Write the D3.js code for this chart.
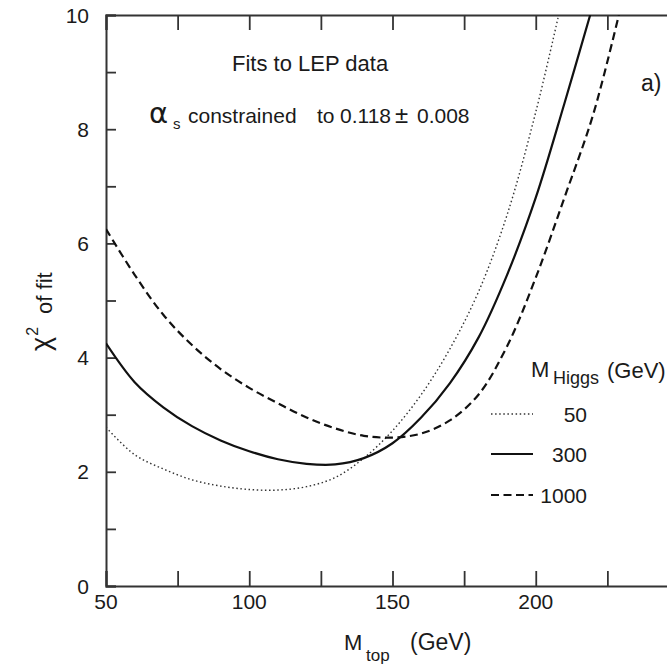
<!DOCTYPE html>
<html>
<head>
<meta charset="utf-8">
<script src="https://cdn.jsdelivr.net/npm/d3@7"></script>
<style>
    body { margin: 0; background: #fff; }
    svg { display: block; font-family: 'Liberation Sans', Arial, Helvetica, sans-serif; }
</style>
</head>
<body>
<div id="chart"></div>
<script>
/* global d3*/

/* -----------------    DATA     ------------------ */

// x ticks (M_top in GeV) and y ticks (chi^2)
const xTickValues = [50, 75, 100, 125, 150, 175, 200, 225, 250];
const xTickLabels = [50, 100, 150, 200];
const yTickValues = [0, 1, 2, 3, 4, 5, 6, 7, 8, 9, 10];
const yTickLabels = [0, 2, 4, 6, 8, 10];

// M_Higgs = 50 GeV (dotted)
const mTop50 = [50, 60, 70, 80, 90, 100, 110, 120, 130, 140, 150, 160, 170, 180, 190, 200, 208];
const chi2Higgs50 = [2.78, 2.3, 2.05, 1.86, 1.75, 1.69, 1.68, 1.74, 1.9, 2.24, 2.72, 3.35, 4.15, 5.15, 6.5, 8.3, 10];

// M_Higgs = 300 GeV (solid)
const mTop300 = [50, 60, 70, 80, 90, 100, 110, 120, 130, 140, 150, 160, 170, 180, 190, 200, 210, 219];
const chi2Higgs300 = [4.25, 3.57, 3.13, 2.8, 2.55, 2.36, 2.22, 2.14, 2.13, 2.24, 2.5, 2.95, 3.55, 4.35, 5.45, 6.8, 8.45, 10];

// M_Higgs = 1000 GeV (dashed)
const mTop1000 = [50, 60, 70, 80, 90, 100, 110, 120, 130, 140, 150, 160, 170, 180, 190, 200, 210, 220, 229];
const chi2Higgs1000 = [6.25, 5.45, 4.75, 4.22, 3.8, 3.47, 3.2, 2.95, 2.76, 2.63, 2.6, 2.67, 2.9, 3.35, 4.2, 5.4, 6.8, 8.25, 10];

const higgsLabels = ['50', '300', '1000'];

/* -----------------    SETTINGS     ------------------ */

const graphSettings = {
    width: 667,
    height: 666,
    plot: {left: 106, top: 15, right: 679, bottom: 586},
    colInk: '#1a1a1a',
    colAxis: '#333',
    fontSize: 21,
    fontSizeText: 22
};

const lineStyles = [
    {width: 1.4, dash: '1.5,2.6', col: '#333'},
    {width: 2.2, dash: null, col: '#111'},
    {width: 2.2, dash: '8,4.5', col: '#111'}
];

/* -----------------    LOGIC     ------------------ */

const { width, height, plot, colInk, colAxis, fontSize, fontSizeText } = graphSettings;

const svg = d3.select('#chart')
.append('svg')
.attr('width', width)
.attr('height', height);

const x = d3.scaleLinear().domain([50, 250]).range([plot.left, plot.right]);
const y = d3.scaleLinear().domain([0, 10]).range([plot.bottom, plot.top]);

svg.append('clipPath')
.attr('id', 'plotClip')
.append('rect')
.attr('x', plot.left)
.attr('y', plot.top)
.attr('width', plot.right - plot.left)
.attr('height', plot.bottom - plot.top);

// Axes: ticks point inward on every side
const axisBottom = d3.axisBottom(x).tickValues(xTickValues).tickSize(-15).tickFormat('');
const axisTop = d3.axisTop(x).tickValues(xTickValues).tickSize(-15).tickFormat('');
const axisLeft = d3.axisLeft(y).tickValues(yTickValues).tickSize(-10).tickFormat('');

[
    [axisBottom, `translate(0,${plot.bottom})`],
    [axisTop, `translate(0,${plot.top})`],
    [axisLeft, `translate(${plot.left},0)`]
].forEach(([axis, tr]) => {
    const g = svg.append('g').attr('transform', tr).call(axis);
    g.select('.domain').attr('stroke', colAxis).attr('stroke-width', 2);
    g.selectAll('.tick line').attr('stroke', colAxis).attr('stroke-width', 1.8);
});

// Tick labels
svg.append('g')
.selectAll('text')
.data(xTickLabels)
.enter()
.append('text')
.attr('x', d => x(d))
.attr('y', 609)
.attr('text-anchor', 'middle')
.attr('font-size', fontSize)
.attr('fill', colInk)
.text(d => d);

svg.append('g')
.selectAll('text')
.data(yTickLabels)
.enter()
.append('text')
.attr('x', 89)
.attr('y', d => y(d))
.attr('dy', '0.36em')
.attr('text-anchor', 'end')
.attr('font-size', fontSize)
.attr('fill', colInk)
.text(d => d);

// Curves
const series = [
    d3.zip(mTop50, chi2Higgs50),
    d3.zip(mTop300, chi2Higgs300),
    d3.zip(mTop1000, chi2Higgs1000)
];

const line = d3.line()
.x(d => x(d[0]))
.y(d => y(d[1]))
.curve(d3.curveCatmullRom.alpha(0.5));

svg.append('g')
.attr('clip-path', 'url(#plotClip)')
.selectAll('path')
.data(series)
.enter()
.append('path')
.attr('d', line)
.attr('fill', 'none')
.attr('stroke', (d, i) => lineStyles[i].col)
.attr('stroke-width', (d, i) => lineStyles[i].width)
.attr('stroke-dasharray', (d, i) => lineStyles[i].dash);

// Annotations
svg.append('text')
.attr('x', 232)
.attr('y', 71)
.attr('font-size', fontSizeText)
.attr('fill', colInk)
.text('Fits to LEP data');

const alphaText = svg.append('text')
.attr('y', 123)
.attr('font-size', 21)
.attr('fill', colInk);
alphaText.append('tspan').attr('x', 149).attr('font-size', 29).attr('font-family', 'DejaVu Sans').text('α');
alphaText.append('tspan').attr('x', 173).attr('font-size', 15).attr('dy', 6).text('s');
alphaText.append('tspan').attr('x', 188).attr('dy', -6).text('constrained');
alphaText.append('tspan').attr('x', 317).text('to');
alphaText.append('tspan').attr('x', 340).text('0.118');
alphaText.append('tspan').attr('x', 395).attr('font-size', 24).text('±');
alphaText.append('tspan').attr('x', 417).text('0.008');

svg.append('text')
.attr('x', 641)
.attr('y', 91)
.attr('font-size', fontSizeText + 1)
.attr('fill', colInk)
.text('a)');

// Axis titles
const xTitle = svg.append('text')
.attr('y', 650)
.attr('font-size', fontSizeText)
.attr('fill', colInk);
xTitle.append('tspan').attr('x', 344).text('M');
xTitle.append('tspan').attr('x', 366).attr('font-size', 17).attr('dy', 11).text('top');
xTitle.append('tspan').attr('x', 410).attr('dy', -11).attr('font-size', fontSizeText + 1).text('(GeV)');

const yTitle = svg.append('text')
.attr('transform', 'translate(52,351) rotate(-90)')
.attr('font-size', fontSizeText)
.attr('fill', colInk);
yTitle.append('tspan').attr('font-size', 27).attr('dy', -2).text('χ');
yTitle.append('tspan').attr('font-size', 16).attr('dy', -12).attr('dx', 1).text('2');
yTitle.append('tspan').attr('dy', 14).attr('dx', 13).text('of fit');

// Legend
const legendTitle = svg.append('text')
.attr('y', 377)
.attr('font-size', fontSizeText)
.attr('fill', colInk);
legendTitle.append('tspan').attr('x', 531).text('M');
legendTitle.append('tspan').attr('x', 553).attr('font-size', 18).attr('dy', 7).text('Higgs');
legendTitle.append('tspan').attr('x', 607).attr('dy', -6).text('(GeV)');

const legendRows = [414, 454, 495];

const legend = svg.append('g')
.selectAll('g')
.data(higgsLabels)
.enter()
.append('g')
.attr('transform', (d, i) => `translate(0,${legendRows[i]})`);

legend.append('line')
.attr('x1', 491)
.attr('x2', 533)
.attr('stroke', (d, i) => lineStyles[i].col)
.attr('stroke-width', (d, i) => lineStyles[i].width)
.attr('stroke-dasharray', (d, i) => lineStyles[i].dash);

legend.append('text')
.attr('x', 587)
.attr('dy', '0.36em')
.attr('text-anchor', 'end')
.attr('font-size', fontSize)
.attr('fill', colInk)
.text(d => d);
</script>
</body>
</html>
